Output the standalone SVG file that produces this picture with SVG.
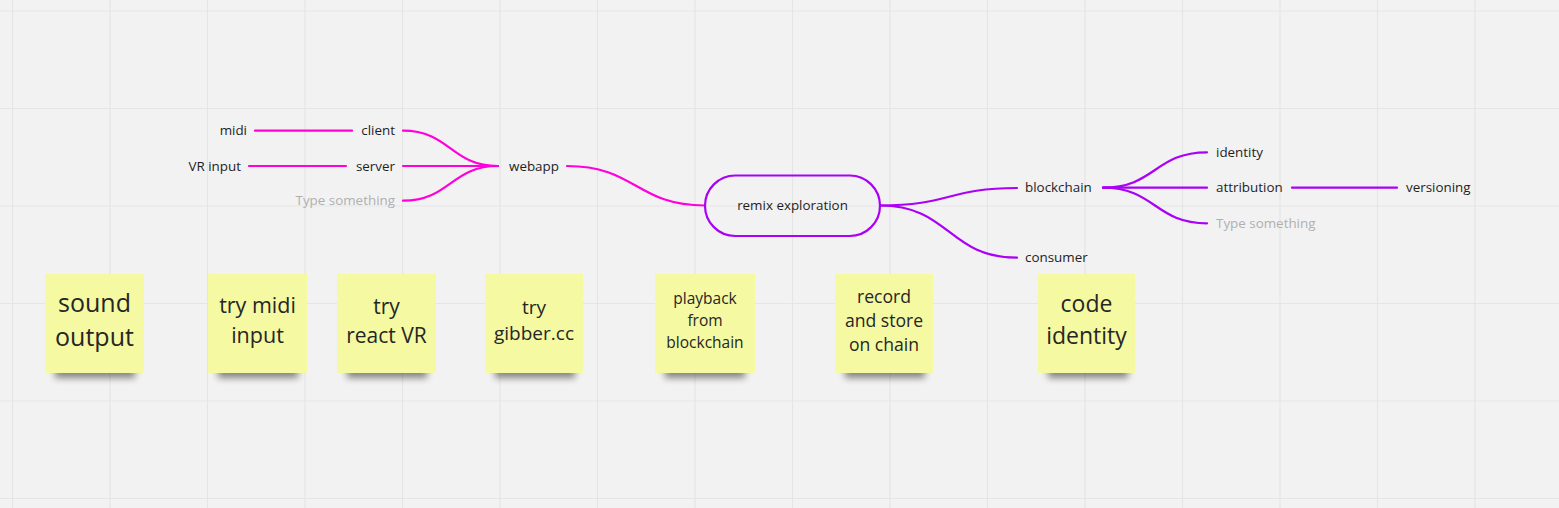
<svg xmlns="http://www.w3.org/2000/svg" width="1559" height="508" viewBox="0 0 1559 508">
<defs>
<style>
.grid{stroke:#e5e5e5;stroke-width:1.2;fill:none}
.mm{font-family:"Open Sans","Noto Sans","Liberation Sans",sans-serif;font-size:13.4px;fill:#1e1e1e}
.ph{fill:#b0b0b0}
.lm{stroke:#ff00dc;stroke-width:2.2;fill:none;stroke-linecap:round}
.lp{stroke:#aa00f5;stroke-width:2.2;fill:none;stroke-linecap:round}
.note{fill:#f4f9a2}
.shadow{fill:#000;opacity:0.45;filter:url(#blur)}
.nt{font-family:"Open Sans","Noto Sans","Liberation Sans",sans-serif;fill:#262626;text-anchor:middle}
</style>
<filter id="blur" x="-20%" y="-100%" width="140%" height="300%">
<feGaussianBlur stdDeviation="3.5"/>
</filter>
</defs>
<rect x="0" y="0" width="1559" height="508" fill="#f2f2f2"/>
<g id="grid" class="grid">
<path d="M12.5,0V508M110,0V508M207.5,0V508M305,0V508M402.5,0V508M500,0V508M597.5,0V508M695,0V508M792.5,0V508M890,0V508M987.5,0V508M1085,0V508M1182.5,0V508M1280,0V508M1377.5,0V508M1475,0V508"/>
<path d="M0,11H1559M0,108.5H1559M0,206H1559M0,303.5H1559M0,401H1559M0,498.5H1559"/>
</g>
<g id="connectors">
<path class="lm" d="M255,130.7H352"/>
<path class="lm" d="M249,166H346"/>
<path class="lm" d="M403,130.7C450,130.7 451,166 498,166"/>
<path class="lm" d="M403,166H498"/>
<path class="lm" d="M403,200.7C450,200.7 451,166 498,166"/>
<path class="lm" d="M567,166C636,166 636,205.5 705,205.5"/>
<path class="lp" d="M880,205.5C950,205.5 948,188 1017,188"/>
<path class="lp" d="M880,205.5C950,205.5 948,257.7 1017,257.7"/>
<path class="lp" d="M1103,187.7C1155,187.7 1155,152.3 1207,152.3"/>
<path class="lp" d="M1103,187.7H1207"/>
<path class="lp" d="M1103,187.7C1155,187.7 1155,223.3 1207,223.3"/>
<path class="lp" d="M1292,187.7H1397"/>
</g>
<g id="node-root">
<rect x="705" y="175.5" width="175" height="60.5" rx="30.25" fill="none" stroke="#aa00f5" stroke-width="2.2"/>
<text class="mm" x="792.5" y="210" text-anchor="middle">remix exploration</text>
</g>
<g id="node-webapp"><text class="mm" x="509" y="170.5">webapp</text></g>
<g id="node-client"><text class="mm" x="395" y="135" text-anchor="end">client</text></g>
<g id="node-server"><text class="mm" x="395" y="170.5" text-anchor="end">server</text></g>
<g id="node-type1"><text class="mm ph" x="395" y="205" text-anchor="end">Type something</text></g>
<g id="node-midi"><text class="mm" x="247" y="135" text-anchor="end">midi</text></g>
<g id="node-vrinput"><text class="mm" x="241" y="170.5" text-anchor="end">VR input</text></g>
<g id="node-blockchain"><text class="mm" x="1025" y="192">blockchain</text></g>
<g id="node-consumer"><text class="mm" x="1025" y="262">consumer</text></g>
<g id="node-identity"><text class="mm" x="1216" y="157">identity</text></g>
<g id="node-attribution"><text class="mm" x="1216" y="192">attribution</text></g>
<g id="node-type2"><text class="mm ph" x="1216" y="228">Type something</text></g>
<g id="node-versioning"><text class="mm" x="1406" y="192">versioning</text></g>

<g id="note-sound">
<rect class="shadow" x="55" y="364" width="80" height="14"/>
<rect class="note" x="45" y="274" width="99" height="99"/>
<text class="nt" font-size="25" x="94.5" y="311.5">sound</text>
<text class="nt" font-size="25" x="94.5" y="346">output</text>
</g>
<g id="note-midi">
<rect class="shadow" x="218" y="364" width="80" height="14"/>
<rect class="note" x="208" y="274" width="99" height="99"/>
<text class="nt" font-size="21.5" x="257.5" y="312.5">try midi</text>
<text class="nt" font-size="21.5" x="257.5" y="343">input</text>
</g>
<g id="note-reactvr">
<rect class="shadow" x="347" y="364" width="80" height="14"/>
<rect class="note" x="337" y="274" width="99" height="99"/>
<text class="nt" font-size="21" x="386.5" y="313.5">try</text>
<text class="nt" font-size="21" x="386.5" y="342.5">react VR</text>
</g>
<g id="note-gibber">
<rect class="shadow" x="495" y="364" width="80" height="14"/>
<rect class="note" x="485" y="274" width="98" height="99"/>
<text class="nt" font-size="19" x="534" y="314">try</text>
<text class="nt" font-size="19" x="534" y="340">gibber.cc</text>
</g>
<g id="note-playback">
<rect class="shadow" x="665" y="364" width="80" height="14"/>
<rect class="note" x="655" y="274" width="100" height="99"/>
<text class="nt" font-size="15.5" x="705" y="304">playback</text>
<text class="nt" font-size="15.5" x="705" y="326">from</text>
<text class="nt" font-size="15.5" x="705" y="347.5">blockchain</text>
</g>
<g id="note-record">
<rect class="shadow" x="845" y="364" width="80" height="14"/>
<rect class="note" x="835" y="274" width="98" height="99"/>
<text class="nt" font-size="17.6" x="884" y="302.5">record</text>
<text class="nt" font-size="17.6" x="884" y="327">and store</text>
<text class="nt" font-size="17.6" x="884" y="351">on chain</text>
</g>
<g id="note-code">
<rect class="shadow" x="1048" y="364" width="80" height="14"/>
<rect class="note" x="1038" y="274" width="97" height="99"/>
<text class="nt" font-size="23" x="1086.5" y="311.5">code</text>
<text class="nt" font-size="23" x="1086.5" y="344">identity</text>
</g>
</svg>
